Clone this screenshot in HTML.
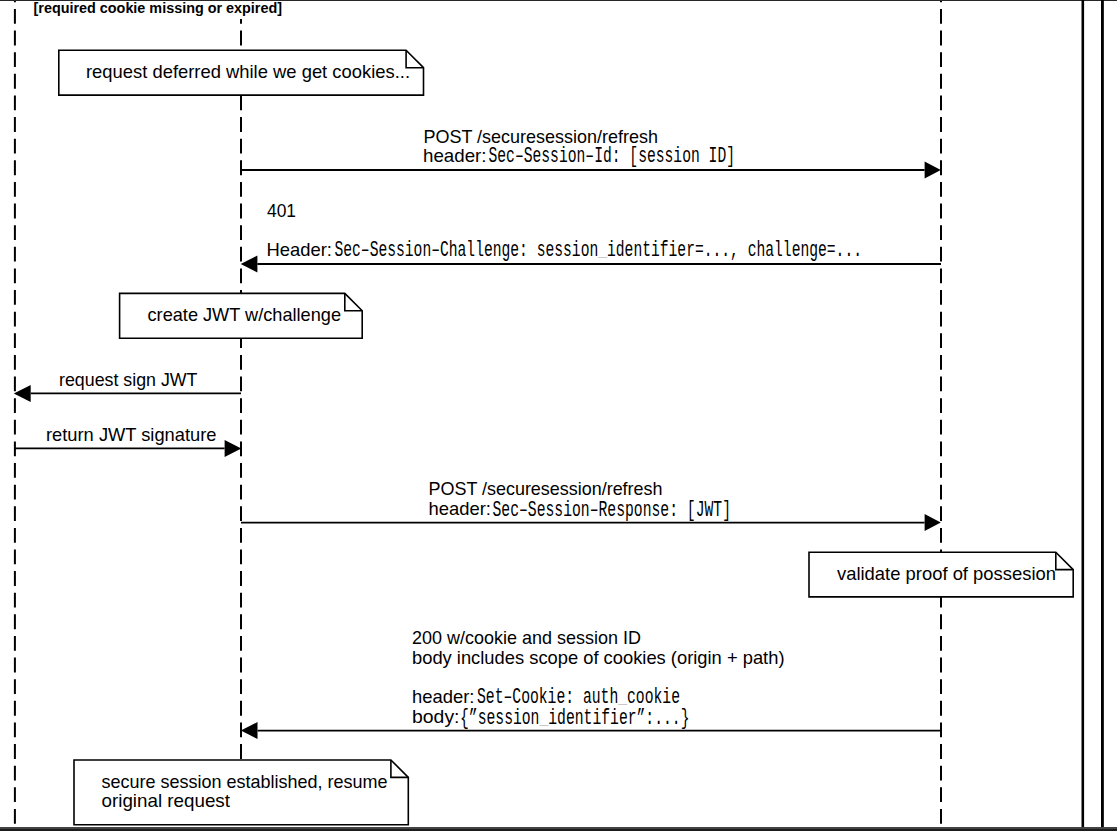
<!DOCTYPE html><html><head><meta charset="utf-8"><style>html,body{margin:0;padding:0;background:#fff;overflow:hidden}svg{display:block}text{white-space:pre}</style></head><body>
<svg width="1117" height="831" viewBox="0 0 1117 831">
<rect width="1117" height="831" fill="#fff"/>
<line x1="14.9" y1="0" x2="14.9" y2="831" stroke="#000" stroke-width="2" stroke-dasharray="14.8 6.82" stroke-dashoffset="12.62"/>
<line x1="241" y1="0" x2="241" y2="831" stroke="#000" stroke-width="2" stroke-dasharray="14.8 6.82" stroke-dashoffset="12.62"/>
<line x1="941" y1="0" x2="941" y2="831" stroke="#000" stroke-width="2" stroke-dasharray="14.8 6.82" stroke-dashoffset="12.62"/>
<rect x="30" y="1" width="260" height="18" fill="#fff"/>
<line x1="241" y1="170" x2="924.6" y2="170" stroke="#000" stroke-width="1.8"/>
<polygon points="940.8,170 924.6,161.5 924.6,178.5" fill="#000"/>
<line x1="941" y1="264" x2="257.4" y2="264" stroke="#000" stroke-width="1.8"/>
<polygon points="240.7,264 257.4,255.5 257.4,272.5" fill="#000"/>
<line x1="241" y1="393.4" x2="30.7" y2="393.4" stroke="#000" stroke-width="1.8"/>
<polygon points="13.8,393.4 30.7,384.9 30.7,401.9" fill="#000"/>
<line x1="15" y1="448.4" x2="224.6" y2="448.4" stroke="#000" stroke-width="1.8"/>
<polygon points="241.3,448.4 224.6,439.9 224.6,456.9" fill="#000"/>
<line x1="241" y1="522.6" x2="924.6" y2="522.6" stroke="#000" stroke-width="1.8"/>
<polygon points="940.8,522.6 924.6,514.1 924.6,531.1" fill="#000"/>
<line x1="941" y1="730.6" x2="257.5" y2="730.6" stroke="#000" stroke-width="1.8"/>
<polygon points="240.9,730.6 257.5,722.1 257.5,739.1" fill="#000"/>
<path d="M58.8,50.3 L406.1,50.3 L423.5,67.69999999999999 L423.5,95.1 L58.8,95.1 Z" fill="#fff" stroke="#000" stroke-width="1.6" stroke-linejoin="miter"/>
<path d="M406.1,50.3 L406.1,67.69999999999999 L423.5,67.69999999999999" fill="none" stroke="#000" stroke-width="1.6"/>
<path d="M119.6,293.4 L344.8,293.4 L362.2,310.79999999999995 L362.2,338.3 L119.6,338.3 Z" fill="#fff" stroke="#000" stroke-width="1.6" stroke-linejoin="miter"/>
<path d="M344.8,293.4 L344.8,310.79999999999995 L362.2,310.79999999999995" fill="none" stroke="#000" stroke-width="1.6"/>
<path d="M809.0,552.2 L1055.8,552.2 L1073.2,569.6 L1073.2,596.9 L809.0,596.9 Z" fill="#fff" stroke="#000" stroke-width="1.6" stroke-linejoin="miter"/>
<path d="M1055.8,552.2 L1055.8,569.6 L1073.2,569.6" fill="none" stroke="#000" stroke-width="1.6"/>
<path d="M74.0,760.0 L390.90000000000003,760.0 L408.3,777.4 L408.3,824.7 L74.0,824.7 Z" fill="#fff" stroke="#000" stroke-width="1.6" stroke-linejoin="miter"/>
<path d="M390.90000000000003,760.0 L390.90000000000003,777.4 L408.3,777.4" fill="none" stroke="#000" stroke-width="1.6"/>
<rect x="0" y="0" width="1117" height="1" fill="#262626"/>
<rect x="1081.5" y="0" width="2.6" height="831" fill="#000"/>
<rect x="1101.0" y="0" width="2.85" height="831" fill="#000"/>
<rect x="0" y="827" width="1117" height="2" fill="#434343"/>
<rect x="0" y="829" width="1117" height="2" fill="#1c1c1c"/>
<text x="33.5" y="12.6" font-family='"Liberation Sans", sans-serif' font-size="14" font-weight="bold" fill="#000" textLength="248.5" lengthAdjust="spacingAndGlyphs">[required cookie missing or expired]</text>
<text x="86.0" y="78.1" font-family='"Liberation Sans", sans-serif' font-size="19" font-weight="normal" fill="#000" textLength="324.0" lengthAdjust="spacingAndGlyphs">request deferred while we get cookies...</text>
<text x="423.5" y="142.8" font-family='"Liberation Sans", sans-serif' font-size="19" font-weight="normal" fill="#000" textLength="234.5" lengthAdjust="spacingAndGlyphs">POST /securesession/refresh</text>
<text x="423.0" y="161.5" font-family='"Liberation Sans", sans-serif' font-size="19" font-weight="normal" fill="#000" textLength="63.5" lengthAdjust="spacingAndGlyphs">header:</text>
<text x="488.5" y="162.1" font-family='"Liberation Mono", monospace' font-size="22" font-weight="normal" fill="#000" textLength="246.5" lengthAdjust="spacingAndGlyphs">Sec–Session–Id: [session ID]</text>
<text x="267.0" y="216.7" font-family='"Liberation Sans", sans-serif' font-size="19" font-weight="normal" fill="#000" textLength="29.0" lengthAdjust="spacingAndGlyphs">401</text>
<text x="266.5" y="255.5" font-family='"Liberation Sans", sans-serif' font-size="19" font-weight="normal" fill="#000" textLength="65.5" lengthAdjust="spacingAndGlyphs">Header:</text>
<text x="334.5" y="256.1" font-family='"Liberation Mono", monospace' font-size="22" font-weight="normal" fill="#000" textLength="527.5" lengthAdjust="spacingAndGlyphs">Sec–Session–Challenge: session<tspan fill="#c8c8c8">_</tspan>identifier=..., challenge=...</text>
<text x="147.5" y="321.0" font-family='"Liberation Sans", sans-serif' font-size="19" font-weight="normal" fill="#000" textLength="193.5" lengthAdjust="spacingAndGlyphs">create JWT w/challenge</text>
<text x="59.0" y="385.6" font-family='"Liberation Sans", sans-serif' font-size="19" font-weight="normal" fill="#000" textLength="138.5" lengthAdjust="spacingAndGlyphs">request sign JWT</text>
<text x="46.0" y="440.7" font-family='"Liberation Sans", sans-serif' font-size="19" font-weight="normal" fill="#000" textLength="170.5" lengthAdjust="spacingAndGlyphs">return JWT signature</text>
<text x="428.5" y="494.7" font-family='"Liberation Sans", sans-serif' font-size="19" font-weight="normal" fill="#000" textLength="234.0" lengthAdjust="spacingAndGlyphs">POST /securesession/refresh</text>
<text x="428.5" y="514.9" font-family='"Liberation Sans", sans-serif' font-size="19" font-weight="normal" fill="#000" textLength="62.5" lengthAdjust="spacingAndGlyphs">header:</text>
<text x="492.5" y="515.5" font-family='"Liberation Mono", monospace' font-size="22" font-weight="normal" fill="#000" textLength="238.5" lengthAdjust="spacingAndGlyphs">Sec–Session–Response: [JWT]</text>
<text x="837.0" y="579.6" font-family='"Liberation Sans", sans-serif' font-size="19" font-weight="normal" fill="#000" textLength="219.0" lengthAdjust="spacingAndGlyphs">validate proof of possesion</text>
<text x="412.0" y="643.5" font-family='"Liberation Sans", sans-serif' font-size="19" font-weight="normal" fill="#000" textLength="229.0" lengthAdjust="spacingAndGlyphs">200 w/cookie and session ID</text>
<text x="412.0" y="664.2" font-family='"Liberation Sans", sans-serif' font-size="19" font-weight="normal" fill="#000" textLength="372.5" lengthAdjust="spacingAndGlyphs">body includes scope of cookies (origin + path)</text>
<text x="412.0" y="702.8" font-family='"Liberation Sans", sans-serif' font-size="19" font-weight="normal" fill="#000" textLength="62.5" lengthAdjust="spacingAndGlyphs">header:</text>
<text x="477.0" y="703.4" font-family='"Liberation Mono", monospace' font-size="22" font-weight="normal" fill="#000" textLength="203.0" lengthAdjust="spacingAndGlyphs">Set–Cookie: auth<tspan fill="#c8c8c8">_</tspan>cookie</text>
<text x="412.0" y="723.0" font-family='"Liberation Sans", sans-serif' font-size="19" font-weight="normal" fill="#000" textLength="47.5" lengthAdjust="spacingAndGlyphs">body:</text>
<text x="460.0" y="723.6" font-family='"Liberation Mono", monospace' font-size="22" font-weight="normal" fill="#000" textLength="229.5" lengthAdjust="spacingAndGlyphs">{”session<tspan fill="#c8c8c8">_</tspan>identifier”:...}</text>
<text x="101.5" y="787.9" font-family='"Liberation Sans", sans-serif' font-size="19" font-weight="normal" fill="#000" textLength="286.0" lengthAdjust="spacingAndGlyphs">secure session established, resume</text>
<text x="101.5" y="806.6" font-family='"Liberation Sans", sans-serif' font-size="19" font-weight="normal" fill="#000" textLength="128.5" lengthAdjust="spacingAndGlyphs">original request</text>
</svg></body></html>
